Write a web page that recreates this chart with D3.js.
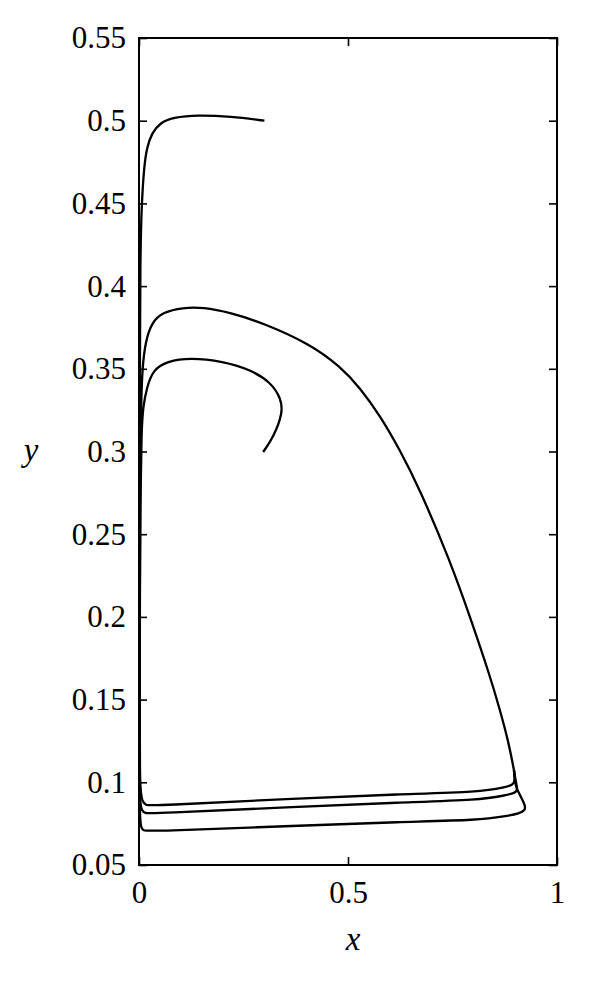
<!DOCTYPE html>
<html>
<head>
<meta charset="utf-8">
<script src="https://cdn.jsdelivr.net/npm/d3@7"></script>
<style>
  body { margin: 0; background: #fff; }
  svg { display: block; }
  .tick text { font-family: "Liberation Serif", serif; font-size: 31px; fill: #000; }
  .lbl { font-family: "Liberation Serif", serif; font-size: 33px; font-style: italic; fill: #000; }
</style>
</head>
<body>
<div id="chart"></div>
<script>
var w = 593;
var h = 981;

var xTicks = [0, 0.5, 1];
var yTicks = [0.05, 0.1, 0.15, 0.2, 0.25, 0.3, 0.35, 0.4, 0.45, 0.5, 0.55];

// trajectory starting at (0.3, 0.5)
var trajA = [
  [0.30, 0.500], [0.22, 0.5025], [0.14, 0.5035], [0.081, 0.502], [0.050, 0.4986],
  [0.031, 0.4926], [0.019, 0.484], [0.012, 0.472], [0.006, 0.448], [0.003, 0.416],
  [0.002, 0.35], [0.0015, 0.25], [0.0015, 0.15], [0.0018, 0.09], [0.0025, 0.078],
  [0.005, 0.0725], [0.010, 0.0708], [0.025, 0.0703], [0.385, 0.0738], [0.624, 0.0760],
  [0.816, 0.0772], [0.876, 0.0794], [0.911, 0.0812], [0.924, 0.0832], [0.924, 0.0860],
  [0.914, 0.0910], [0.904, 0.0960], [0.899, 0.1000], [0.897, 0.1074]
];

// trajectory starting at (0.3, 0.3)
var trajB = [
  [0.297, 0.2997], [0.322, 0.3088], [0.344, 0.3233], [0.340, 0.3320], [0.315, 0.3420],
  [0.266, 0.3495], [0.201, 0.3545], [0.122, 0.3567], [0.067, 0.3545], [0.0335, 0.3493],
  [0.019, 0.339], [0.0096, 0.3269], [0.006, 0.313], [0.003, 0.27], [0.0015, 0.2],
  [0.0015, 0.13], [0.0018, 0.095], [0.003, 0.087], [0.007, 0.0828], [0.014, 0.0813],
  [0.030, 0.0810], [0.385, 0.0853], [0.624, 0.0878], [0.816, 0.0893], [0.876, 0.0921],
  [0.900, 0.0935], [0.906, 0.0955], [0.902, 0.0995], [0.897, 0.1074]
];

// limit cycle
var cycle = [
  [0.897, 0.1074], [0.883, 0.1256], [0.862, 0.145], [0.840, 0.164], [0.792, 0.200],
  [0.744, 0.234], [0.672, 0.277], [0.624, 0.301], [0.577, 0.3215], [0.529, 0.3385],
  [0.481, 0.3515], [0.409, 0.3650], [0.297, 0.3777], [0.218, 0.3840], [0.153, 0.3872],
  [0.105, 0.3870], [0.057, 0.3843], [0.030, 0.3780], [0.015, 0.366], [0.008, 0.350],
  [0.005, 0.331], [0.003, 0.28], [0.002, 0.2], [0.0018, 0.14], [0.002, 0.105],
  [0.004, 0.094], [0.008, 0.0882], [0.016, 0.0862], [0.030, 0.0857], [0.385, 0.0904],
  [0.624, 0.0928], [0.816, 0.0941], [0.876, 0.0969], [0.895, 0.0986], [0.900, 0.1010],
  [0.897, 0.1074]
];

var plotL = 139, plotR = 557, plotT = 38, plotB = 865;

var x = d3.scaleLinear().domain([0, 1]).range([plotL, plotR]);
var y = d3.scaleLinear().domain([0.05, 0.55]).range([plotB, plotT]);
var fmt = d3.format(".2~f");

var svg = d3.select("#chart").append("svg")
  .attr("width", w)
  .attr("height", h);

var line = d3.line()
  .x(function(d) { return x(d[0]); })
  .y(function(d) { return y(d[1]); })
  .curve(d3.curveBasis);

svg.selectAll("path.traj")
  .data([trajA, trajB, cycle])
  .enter()
  .append("path")
  .attr("class", "traj")
  .attr("d", line)
  .attr("fill", "none")
  .attr("stroke", "#000")
  .attr("stroke-width", 2.3)
  .attr("stroke-linejoin", "round");

function styleAxis(g) {
  g.select(".domain").remove();
  g.selectAll(".tick line").attr("stroke", "#000").attr("stroke-width", 1.6);
}

svg.append("g")
  .attr("transform", "translate(" + plotL + ",0)")
  .call(d3.axisLeft(y).tickValues(yTicks).tickFormat(fmt).tickSize(-8).tickPadding(13))
  .call(styleAxis);

svg.append("g")
  .attr("transform", "translate(" + plotR + ",0)")
  .call(d3.axisRight(y).tickValues(yTicks).tickFormat("").tickSize(-8))
  .call(styleAxis);

svg.append("g")
  .attr("transform", "translate(0," + plotB + ")")
  .call(d3.axisBottom(x).tickValues(xTicks).tickFormat(fmt).tickSize(-8).tickPadding(16))
  .call(styleAxis);

svg.append("g")
  .attr("transform", "translate(0," + plotT + ")")
  .call(d3.axisTop(x).tickValues(xTicks).tickFormat("").tickSize(-8))
  .call(styleAxis);

svg.selectAll(".tick text").attr("font-family", null).attr("font-size", null);

svg.append("rect")
  .attr("x", plotL)
  .attr("y", plotT)
  .attr("width", plotR - plotL)
  .attr("height", plotB - plotT)
  .attr("fill", "none")
  .attr("stroke", "#000")
  .attr("stroke-width", 2);

svg.append("text")
  .attr("class", "lbl")
  .attr("x", 353)
  .attr("y", 950)
  .attr("text-anchor", "middle")
  .text("x");

svg.append("text")
  .attr("class", "lbl")
  .attr("x", 31)
  .attr("y", 461)
  .attr("text-anchor", "middle")
  .text("y");
</script>
</body>
</html>
